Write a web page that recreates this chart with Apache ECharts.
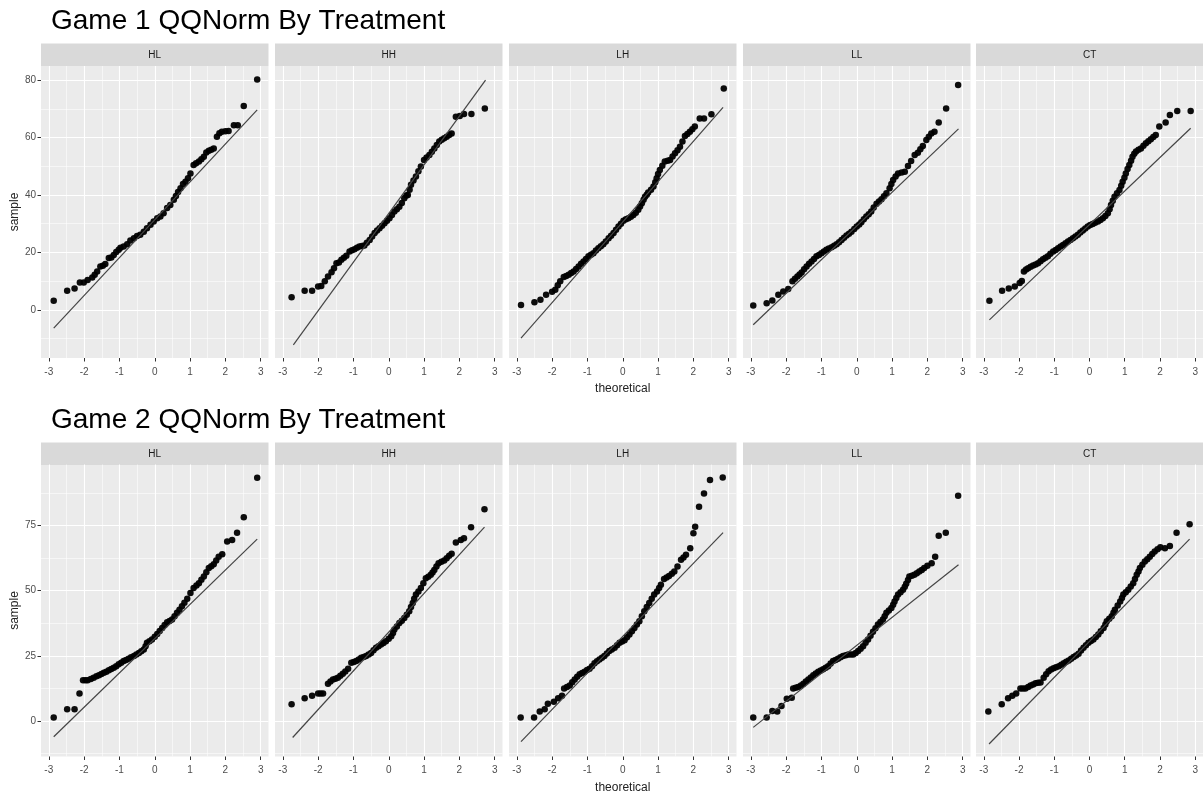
<!DOCTYPE html>
<html>
<head>
<meta charset="utf-8">
<title>QQNorm By Treatment</title>
<script src="https://cdn.jsdelivr.net/npm/echarts@6/dist/echarts.min.js"></script>
<style>
  html, body { margin: 0; padding: 0; background: #fff; }
  #qqChart { width: 1203px; height: 795px; }
</style>
</head>
<body>
<div id="qqChart"></div>
<script>
const treatments = ['HL', 'HH', 'LH', 'LL', 'CT'];
const gameTitles = ['Game 1 QQNorm By Treatment', 'Game 2 QQNorm By Treatment'];
const xTicks = [-3, -2, -1, 0, 1, 2, 3];
const xMinor = [-2.5, -1.5, -0.5, 0.5, 1.5, 2.5];
const g1YTicks = [0, 20, 40, 60, 80];
const g1YMinor = [-10, 10, 30, 50, 70];
const g2YTicks = [0, 25, 50, 75];
const g2YMinor = [-12.5, 12.5, 37.5, 62.5, 87.5];

// points: [theoretical, sample]
const g1HL = [[-2.86,3.1],[-2.48,6.6],[-2.27,7.4],[-2.12,9.5],[-2.01,9.5],[-1.9,10.4],[-1.77,11.2],[-1.7,12.2],[-1.63,13.3],[-1.54,15.1],[-1.47,15.3],[-1.4,15.9],[-1.3,18],[-1.23,18.2],[-1.16,19.1],[-1.09,20.1],[-1.02,20.9],[-0.97,21.6],[-0.88,22.0],[-0.78,22.8],[-0.69,24.1],[-0.59,24.9],[-0.5,25.7],[-0.41,26.1],[-0.31,27.2],[-0.22,28.4],[-0.12,29.6],[-0.03,30.7],[0.07,31.9],[0.16,32.5],[0.25,33.6],[0.35,35.4],[0.44,36.5],[0.54,38.3],[0.6,39.6],[0.66,41],[0.73,42.3],[0.8,43.8],[0.87,44.6],[0.94,45.8],[1.01,47.5],[1.1,50.4],[1.17,51.0],[1.25,51.6],[1.32,52.4],[1.39,53.3],[1.46,54.8],[1.53,55.4],[1.6,55.7],[1.67,56.2],[1.76,60.3],[1.83,61.5],[1.9,62],[2.0,62.2],[2.09,62.3],[2.24,64.3],[2.35,64.3],[2.52,71],[2.9,80.2]];
const g1HH = [[-2.75,4.4],[-2.38,6.6],[-2.17,6.6],[-2.0,8.1],[-1.91,8.3],[-1.81,9.9],[-1.72,11.6],[-1.62,13.1],[-1.55,14.5],[-1.48,16.2],[-1.41,16.5],[-1.34,17.4],[-1.27,18.1],[-1.2,18.8],[-1.11,20.3],[-1.04,20.7],[-0.97,21.1],[-0.9,21.6],[-0.83,22],[-0.76,22.2],[-0.69,22.4],[-0.62,23.3],[-0.54,24.3],[-0.47,25.5],[-0.4,26.7],[-0.33,27.6],[-0.26,28.4],[-0.19,29.3],[-0.12,30.1],[-0.05,31],[0.02,31.9],[0.09,33],[0.16,34.2],[0.23,35],[0.3,35.9],[0.37,37.2],[0.44,38.8],[0.5,39.8],[0.54,40],[0.59,41.8],[0.63,43.5],[0.7,45],[0.77,46.4],[0.84,48.2],[0.91,49.9],[1.0,52.2],[1.07,53],[1.15,53.9],[1.22,55],[1.29,56.2],[1.36,57.4],[1.43,58.6],[1.5,59.2],[1.57,59.7],[1.64,60.3],[1.71,60.9],[1.78,61.4],[1.9,67.2],[2.01,67.5],[2.13,68.2],[2.34,68.2],[2.72,70.1]];
const g1LH = [[-2.88,1.7],[-2.5,2.6],[-2.33,3.5],[-2.17,5.2],[-2.0,6.3],[-1.91,7],[-1.84,8.5],[-1.77,9.9],[-1.67,11.4],[-1.6,11.8],[-1.53,12.2],[-1.46,12.8],[-1.39,13.3],[-1.32,14.2],[-1.25,15.1],[-1.18,16],[-1.11,16.8],[-1.04,17.7],[-0.97,18.6],[-0.9,19.2],[-0.83,19.7],[-0.76,20.6],[-0.69,21.4],[-0.62,22.1],[-0.55,22.8],[-0.48,23.8],[-0.4,24.9],[-0.33,25.8],[-0.26,26.7],[-0.19,27.9],[-0.12,29],[-0.05,30],[0.02,31],[0.09,31.5],[0.16,31.9],[0.23,32.4],[0.3,33],[0.37,33.8],[0.44,34.8],[0.49,36],[0.54,37.1],[0.59,38.3],[0.63,39.4],[0.68,40.1],[0.72,40.8],[0.8,41.8],[0.87,42.9],[0.92,44.4],[0.96,45.8],[1.0,47.3],[1.05,48.7],[1.12,50.2],[1.19,51.6],[1.27,51.9],[1.34,52.2],[1.41,53.4],[1.48,54.5],[1.55,55.6],[1.62,56.8],[1.69,58.6],[1.76,60.5],[1.83,61.2],[1.9,62],[1.97,62.9],[2.04,63.8],[2.18,66.6],[2.3,66.6],[2.51,68.1],[2.86,77.1]];
const g1LL = [[-2.93,1.5],[-2.55,2.3],[-2.39,3.2],[-2.22,5.2],[-2.08,6.4],[-1.94,7.2],[-1.82,9.9],[-1.75,10.8],[-1.68,11.6],[-1.62,12.3],[-1.56,13],[-1.49,14.1],[-1.42,15.1],[-1.35,16],[-1.28,16.8],[-1.21,17.7],[-1.14,18.6],[-1.07,19.1],[-1.0,19.7],[-0.93,20.3],[-0.86,20.9],[-0.79,21.3],[-0.71,21.8],[-0.64,22.3],[-0.57,22.8],[-0.5,23.5],[-0.43,24.3],[-0.36,25.1],[-0.29,25.9],[-0.22,26.5],[-0.15,27.2],[-0.07,28.1],[0,29],[0.07,29.7],[0.13,30.5],[0.2,31.5],[0.27,32.5],[0.34,33.3],[0.41,34.2],[0.48,35.6],[0.56,36.9],[0.63,37.7],[0.7,38.5],[0.77,39.5],[0.84,40.6],[0.93,42.3],[0.98,43.8],[1.03,45.2],[1.1,46.4],[1.17,47.5],[1.27,47.8],[1.36,48.1],[1.45,50.1],[1.54,51.8],[1.64,53.9],[1.73,54.7],[1.8,55.9],[1.87,57],[1.97,59.1],[2.04,60.3],[2.11,61.4],[2.2,62],[2.32,65.2],[2.53,70.1],[2.87,78.3]];
const g1CT = [[-2.84,3.1],[-2.48,6.6],[-2.29,7.4],[-2.12,8.1],[-1.98,9.3],[-1.92,10],[-1.86,13.3],[-1.8,14],[-1.74,14.5],[-1.67,15],[-1.6,15.4],[-1.53,15.8],[-1.46,16.2],[-1.39,16.9],[-1.32,17.6],[-1.25,18.1],[-1.18,18.6],[-1.11,19.5],[-1.03,20.3],[-0.96,20.8],[-0.89,21.4],[-0.82,22],[-0.75,22.6],[-0.68,23.2],[-0.61,23.8],[-0.54,24.3],[-0.47,24.9],[-0.4,25.5],[-0.33,26.1],[-0.26,26.9],[-0.19,27.6],[-0.12,28.3],[-0.05,29],[0.02,29.5],[0.09,29.9],[0.16,30.3],[0.24,30.7],[0.31,31.3],[0.38,31.9],[0.45,32.7],[0.52,33.6],[0.57,35],[0.61,36.5],[0.66,38],[0.71,39.4],[0.78,40.6],[0.85,41.7],[0.9,43.2],[0.94,44.6],[0.99,46],[1.03,47.5],[1.08,49],[1.13,50.4],[1.18,51.9],[1.22,53.3],[1.27,54.3],[1.32,55.1],[1.39,55.7],[1.46,56.2],[1.53,57.1],[1.6,58],[1.67,58.7],[1.74,59.4],[1.81,60.2],[1.88,60.9],[1.98,63.8],[2.16,65.2],[2.28,67.8],[2.49,69.2],[2.87,69.2]];

const g2HL = [[-2.86,1.3],[-2.48,4.5],[-2.27,4.5],[-2.13,10.5],[-2.03,15.6],[-1.96,15.6],[-1.9,15.6],[-1.81,16.1],[-1.73,16.6],[-1.65,17.1],[-1.58,17.5],[-1.51,18],[-1.44,18.5],[-1.37,18.9],[-1.3,19.4],[-1.23,19.9],[-1.16,20.4],[-1.09,21],[-1.02,21.7],[-0.95,22.3],[-0.88,23],[-0.81,23.4],[-0.74,23.9],[-0.67,24.4],[-0.59,24.9],[-0.52,25.5],[-0.45,26.1],[-0.38,26.7],[-0.31,27.4],[-0.26,28.7],[-0.22,30],[-0.15,30.6],[-0.08,31.3],[0,32.3],[0.07,33.4],[0.14,34.5],[0.21,35.7],[0.28,36.8],[0.35,37.9],[0.42,38.4],[0.49,38.9],[0.56,40.2],[0.63,41.5],[0.7,42.7],[0.77,44],[0.84,45.4],[0.92,46.9],[1.01,49.1],[1.1,51],[1.18,52],[1.25,52.9],[1.32,54.2],[1.39,55.5],[1.46,57.1],[1.53,58.7],[1.6,59.4],[1.67,60.2],[1.74,61.6],[1.81,63.1],[1.91,64],[2.05,68.9],[2.19,69.5],[2.33,72.3],[2.52,78.2],[2.9,93.4]];
const g2HH = [[-2.75,6.4],[-2.38,8.7],[-2.17,9.6],[-2.0,10.5],[-1.93,10.5],[-1.86,10.5],[-1.72,14.3],[-1.65,15.1],[-1.58,15.9],[-1.51,16.2],[-1.44,16.6],[-1.37,17.3],[-1.3,18.1],[-1.23,19],[-1.15,20],[-1.06,22.3],[-0.99,22.6],[-0.92,23],[-0.85,23.6],[-0.78,24.2],[-0.71,24.5],[-0.64,24.9],[-0.57,25.5],[-0.5,26.1],[-0.43,27.1],[-0.36,28.1],[-0.29,28.7],[-0.22,29.3],[-0.15,29.9],[-0.08,30.6],[0,31.5],[0.07,32.5],[0.12,33.8],[0.16,35.1],[0.23,36.3],[0.3,37.6],[0.37,38.5],[0.44,39.5],[0.51,40.8],[0.58,42.1],[0.63,43.7],[0.68,45.3],[0.72,46.9],[0.77,48.5],[0.84,49.7],[0.91,51],[0.98,52.9],[1.05,54.8],[1.12,55.4],[1.19,56.1],[1.24,57],[1.29,58],[1.35,59.3],[1.41,60.6],[1.49,61.1],[1.57,61.6],[1.64,62.5],[1.71,63.4],[1.78,64.2],[1.9,68.5],[2.04,69.5],[2.13,70.2],[2.33,74.4],[2.71,81.3]];
const g2LH = [[-2.89,1.3],[-2.51,1.3],[-2.35,3.6],[-2.21,4.5],[-2.12,6.6],[-1.95,7.3],[-1.83,8.7],[-1.72,9.6],[-1.66,12.4],[-1.58,13],[-1.5,13.6],[-1.43,14.8],[-1.36,15.9],[-1.29,16.9],[-1.22,17.9],[-1.15,18.4],[-1.08,18.9],[-1.01,19.5],[-0.94,20],[-0.87,21],[-0.8,22.1],[-0.73,22.9],[-0.66,23.6],[-0.59,24.2],[-0.52,24.9],[-0.45,25.9],[-0.38,26.8],[-0.31,27.4],[-0.23,28.1],[-0.16,29],[-0.09,30],[-0.02,30.5],[0.05,31],[0.12,32.1],[0.19,33.2],[0.26,34.4],[0.33,35.7],[0.4,37],[0.47,38.3],[0.54,40.2],[0.61,42.1],[0.68,43.7],[0.75,45.3],[0.82,46.9],[0.89,48.5],[0.97,49.7],[1.03,51],[1.08,52.3],[1.17,54.5],[1.24,55.1],[1.31,55.7],[1.39,56.5],[1.46,57.4],[1.55,59.3],[1.65,61.9],[1.72,62.8],[1.79,63.8],[1.91,66.3],[2.0,72.1],[2.05,74.6],[2.16,82.3],[2.3,87.4],[2.47,92.5],[2.83,93.5]];
const g2LL = [[-2.93,1.3],[-2.55,1.3],[-2.39,3.8],[-2.25,3.6],[-2.13,5.7],[-1.98,8.5],[-1.84,8.9],[-1.8,12.4],[-1.73,12.7],[-1.66,13],[-1.58,13.6],[-1.51,14.3],[-1.44,15.1],[-1.37,15.9],[-1.3,16.7],[-1.23,17.5],[-1.16,18.2],[-1.09,18.9],[-1.02,19.3],[-0.95,19.8],[-0.88,20.4],[-0.81,21],[-0.74,22],[-0.67,23],[-0.6,23.4],[-0.53,23.9],[-0.46,24.4],[-0.39,24.9],[-0.31,25.2],[-0.24,25.5],[-0.17,25.5],[-0.1,25.5],[-0.03,26.1],[0.04,26.8],[0.11,27.7],[0.18,28.7],[0.25,30],[0.32,31.3],[0.39,32.7],[0.46,34.2],[0.53,35.6],[0.6,37],[0.67,38],[0.74,38.9],[0.79,40.2],[0.84,41.5],[0.91,42.4],[0.98,43.4],[1.03,44.6],[1.07,45.9],[1.12,47.2],[1.17,48.5],[1.24,49.4],[1.31,50.4],[1.36,51.5],[1.4,52.7],[1.45,54.1],[1.49,55.5],[1.56,55.8],[1.63,56.1],[1.7,56.7],[1.77,57.4],[1.84,58],[1.91,58.7],[2.0,59.6],[2.12,60.6],[2.22,63.1],[2.32,71.1],[2.52,72.3],[2.87,86.5]];
const g2CT = [[-2.87,3.6],[-2.49,6.4],[-2.31,8.7],[-2.19,9.6],[-2.08,10.5],[-1.96,12.4],[-1.89,12.4],[-1.82,12.4],[-1.74,13],[-1.67,13.6],[-1.6,14],[-1.53,14.4],[-1.46,14.6],[-1.39,14.7],[-1.3,16.6],[-1.23,17.9],[-1.16,19.1],[-1.09,19.7],[-1.02,20.2],[-0.95,20.6],[-0.87,21],[-0.8,21.6],[-0.73,22.1],[-0.66,22.7],[-0.59,23.2],[-0.52,23.9],[-0.45,24.5],[-0.38,25.1],[-0.31,25.8],[-0.24,27],[-0.17,28.1],[-0.1,29],[-0.03,30],[0.04,30.7],[0.11,31.3],[0.18,32.2],[0.25,33.2],[0.32,34.4],[0.4,35.7],[0.45,37],[0.49,38.3],[0.56,39.2],[0.63,40.2],[0.68,41.5],[0.72,42.7],[0.8,44.3],[0.87,45.9],[0.92,47.2],[0.96,48.5],[1.03,49.4],[1.1,50.4],[1.17,51.6],[1.24,52.9],[1.29,54.5],[1.34,56.1],[1.39,57.4],[1.43,58.7],[1.5,60],[1.57,61.2],[1.64,62.1],[1.71,63.1],[1.78,64.1],[1.85,65.1],[1.93,65.9],[2.01,66.7],[2.14,66.3],[2.28,67.2],[2.47,72.3],[2.84,75.5]];

// qq reference lines, per treatment: [x1, y1, x2, y2]
const g1Lines = [[-2.86,-6.4,2.9,69.6],[-2.7,-12.2,2.74,80],[-2.88,-9.9,2.84,70.5],[-2.93,-5.2,2.88,63],[-2.84,-3.5,2.87,63.2]];
const g2Lines = [[-2.86,-6.1,2.9,69.8],[-2.72,-6.4,2.71,74.4],[-2.88,-8,2.84,72.3],[-2.93,-2.5,2.88,60],[-2.85,-8.9,2.84,69.8]];

const FONT = '"Liberation Sans", Arial, sans-serif';
const panelLefts = [41, 275, 509, 743, 976];
const panelWidth = 227.5;

const rows = [
    { top: 66, height: 292, stripTop: 43.5, titleTop: 7, yMin: -16.8, yMax: 84.9,
      ticks: g1YTicks, minor: g1YMinor, points: [g1HL, g1HH, g1LH, g1LL, g1CT], lines: g1Lines },
    { top: 464.5, height: 292, stripTop: 442.5, titleTop: 406, yMin: -13.7, yMax: 98.5,
      ticks: g2YTicks, minor: g2YMinor, points: [g2HL, g2HH, g2LH, g2LL, g2CT], lines: g2Lines }
];

const chart = echarts.init(document.getElementById('qqChart'));

const grid = [], xAxis = [], yAxis = [], series = [], graphic = [], title = [];

rows.forEach((row, r) => {
    title.push({
        text: gameTitles[r], left: 51, top: row.titleTop, padding: 0,
        textStyle: { fontFamily: FONT, fontSize: 28, fontWeight: 'normal', color: '#000' }
    });
    treatments.forEach((name, i) => {
        const g = r * 5 + i;
        const left = panelLefts[i];
        grid.push({
            left: left, top: row.top, width: panelWidth, height: row.height,
            show: true, backgroundColor: '#ebebeb', borderWidth: 0
        });
        // major x axis (ticks, labels, major grid)
        xAxis.push({
            gridIndex: g, type: 'value', min: -3.22, max: 3.22, position: 'bottom',
            axisLine: { show: false, onZero: false },
            axisTick: { show: true, length: 3.5, lineStyle: { color: '#333', width: 1 }, customValues: xTicks },
            axisLabel: { customValues: xTicks, color: '#4d4d4d', fontSize: 10, margin: 9, fontFamily: FONT },
            splitLine: { show: true, lineStyle: { color: '#fff', width: 1.1 } },
            name: i === 2 ? 'theoretical' : '', nameLocation: 'middle', nameGap: 25,
            nameTextStyle: { fontFamily: FONT, fontSize: 12, color: '#222' }
        });
        // minor x grid
        xAxis.push({
            gridIndex: g, type: 'value', min: -3.22, max: 3.22, position: 'top',
            axisLine: { show: false, onZero: false },
            axisTick: { show: false, customValues: xMinor },
            axisLabel: { show: false },
            splitLine: { show: true, lineStyle: { color: '#fff', width: 0.55 } }
        });
        yAxis.push({
            gridIndex: g, type: 'value', min: row.yMin, max: row.yMax, position: 'left',
            axisLine: { show: false, onZero: false },
            axisTick: { show: i === 0, length: 3.5, lineStyle: { color: '#333', width: 1 }, customValues: row.ticks },
            axisLabel: { show: i === 0, customValues: row.ticks, color: '#4d4d4d', fontSize: 10, margin: 5, fontFamily: FONT },
            splitLine: { show: true, lineStyle: { color: '#fff', width: 1.1 } },
            name: i === 0 ? 'sample' : '', nameLocation: 'middle', nameGap: 20,
            nameTextStyle: { fontFamily: FONT, fontSize: 12, color: '#222' }
        });
        yAxis.push({
            gridIndex: g, type: 'value', min: row.yMin, max: row.yMax, position: 'right',
            axisLine: { show: false, onZero: false },
            axisTick: { show: false, customValues: row.minor },
            axisLabel: { show: false },
            splitLine: { show: true, lineStyle: { color: '#fff', width: 0.55 } }
        });

        series.push({
            type: 'scatter', xAxisIndex: 2 * g, yAxisIndex: 2 * g,
            data: row.points[i], symbolSize: 6.5,
            itemStyle: { color: '#000', opacity: 0.95 }, silent: true, z: 2
        });
        const ln = row.lines[i];
        series.push({
            type: 'line', xAxisIndex: 2 * g, yAxisIndex: 2 * g,
            data: [[ln[0], ln[1]], [ln[2], ln[3]]], showSymbol: false, symbol: 'none',
            lineStyle: { color: '#444', width: 1.2 }, silent: true, z: 3
        });

        graphic.push({
            type: 'rect', silent: true,
            shape: { x: left, y: row.stripTop, width: panelWidth, height: 22.5 },
            style: { fill: '#d9d9d9' }
        });
        graphic.push({
            type: 'text', silent: true,
            x: left + panelWidth / 2, y: row.stripTop + 11.5,
            style: { text: name, fill: '#1a1a1a', fontSize: 10, fontFamily: FONT, align: 'center', verticalAlign: 'middle' }
        });
    });
});

const option = {
    animation: false,
    backgroundColor: '#fff',
    title: title,
    grid: grid,
    xAxis: xAxis,
    yAxis: yAxis,
    series: series,
    graphic: graphic
};
option && chart.setOption(option);
</script>
</body>
</html>
